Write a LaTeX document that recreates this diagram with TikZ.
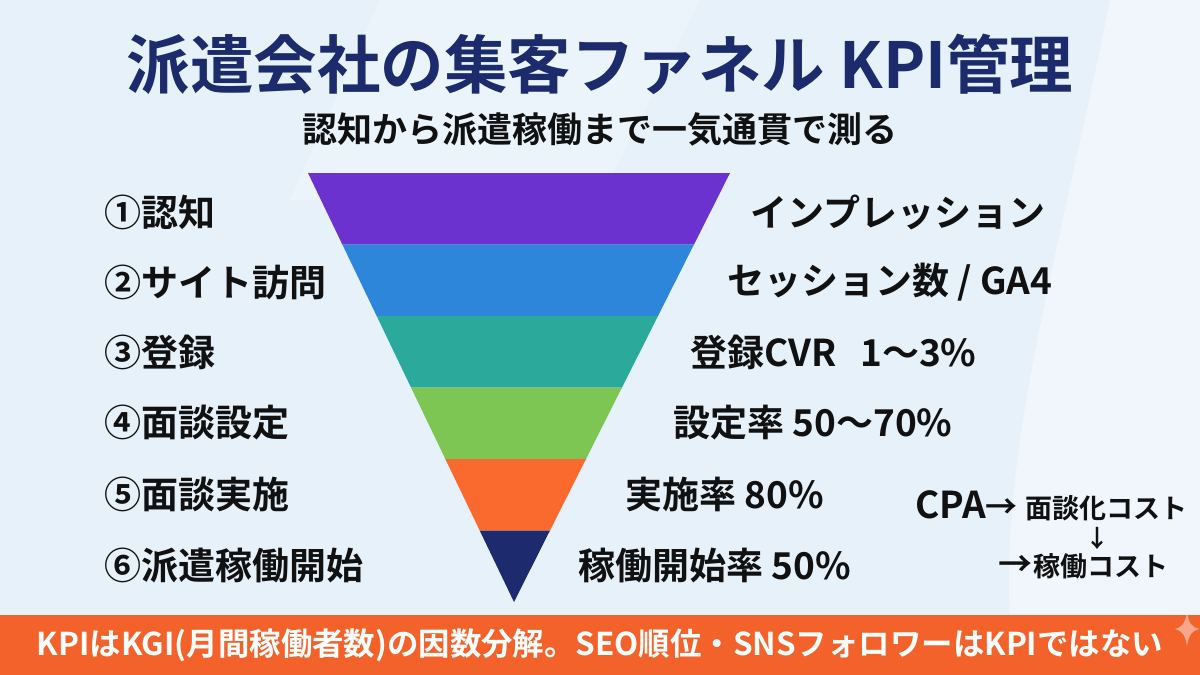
\documentclass[tikz,border=0pt]{standalone}
\usepackage{fontspec}
\setmainfont{Noto Sans CJK JP}[BoldFont={Noto Sans CJK JP Bold}]
\usetikzlibrary{calc}
\definecolor{bg}{HTML}{E7F1FA}
\definecolor{bglight}{HTML}{F0F6FC}
\definecolor{titleblue}{HTML}{1B2B6B}
\definecolor{c1}{HTML}{6C32D0}
\definecolor{c2}{HTML}{2E86DA}
\definecolor{c3}{HTML}{2BAA9C}
\definecolor{c4}{HTML}{7DC653}
\definecolor{c5}{HTML}{FA6A2E}
\definecolor{c6}{HTML}{1E2A6E}
\definecolor{barorange}{HTML}{F4622B}
\definecolor{txt}{HTML}{111111}
\tikzset{
  stagelbl/.style={anchor=west, inner sep=0pt, text=txt, font=\fontsize{37}{40}\selectfont\bfseries},
  metric/.style={anchor=west, inner sep=0pt, text=txt, font=\fontsize{37}{40}\selectfont\bfseries},
  cpa/.style={anchor=base west, inner sep=0pt, text=txt, font=\fontsize{27}{30}\selectfont\bfseries},
}
\begin{document}
\begin{tikzpicture}[x=1pt,y=-1pt]
\useasboundingbox (0,0) rectangle (1200,675);
\fill[bg] (0,0) rectangle (1200,675);
% subtle background shapes
\fill[bglight] (1110,0) .. controls (1060,250) and (1000,450) .. (1010,615) -- (1200,615) -- (1200,0) -- cycle;
\fill[bglight, opacity=0.6] (380,0) -- (290,200) -- (600,200) -- (700,0) -- cycle;

% title
\node[inner sep=0pt, text=titleblue, font=\fontsize{63.5}{70}\selectfont\bfseries] (title) at (600,64) {派遣会社の集客ファネル KPI管理};
\node[inner sep=0pt, text=txt, font=\fontsize{35}{38}\selectfont\bfseries] (subtitle) at (600,129) {認知から派遣稼働まで一気通貫で測る};

% funnel
\coordinate (tl) at (308,173);
\coordinate (tr) at (730,173);
\coordinate (tip) at (514,602);
\foreach \i/\c in {0/c1,1/c2,2/c3,3/c4,4/c5,5/c6}{
  \pgfmathsetmacro{\ta}{\i/6}
  \pgfmathsetmacro{\tb}{(\i+1)/6}
  \fill[\c] ($(tl)!\ta!(tip)$) -- ($(tr)!\ta!(tip)$) -- ($(tr)!\tb!(tip)$) -- ($(tl)!\tb!(tip)$) -- cycle;
}

% left stage labels
\node[stagelbl] (s1) at (104,212) {①認知};
\node[stagelbl] (s2) at (104,282) {②サイト訪問};
\node[stagelbl] (s3) at (104,352) {③登録};
\node[stagelbl] (s4) at (104,423) {④面談設定};
\node[stagelbl] (s5) at (104,494) {⑤面談実施};
\node[stagelbl] (s6) at (104,566) {⑥派遣稼働開始};

% right metric labels
\node[metric] (m1) at (750,212) {インプレッション};
\node[metric] (m2) at (727,282) {セッション数 / GA4};
\node[metric] (m3) at (690,352) {登録CVR\hspace{0.65em}1〜3\%};
\node[metric] (m4) at (673,423) {設定率 50〜70\%};
\node[metric] (m5) at (625,494) {実施率 80\%};
\node[metric] (m6) at (578,566) {稼働開始率 50\%};

% CPA block
\node[cpa] (cpa1) at (915,518) {{\fontsize{37}{40}\selectfont CPA}{\fontsize{32}{34}\selectfont →}\hspace{0.3em}面談化コスト};
\node[inner sep=0pt, text=txt, font=\fontsize{24}{26}\selectfont\bfseries] (cpa2) at (1097,538) {↓};
\node[cpa] (cpa3) at (998,576) {{\fontsize{34}{36}\selectfont →}\hspace{1pt}稼働コスト};

% bottom bar
\fill[barorange] (0,615) rectangle (1200,675);
\node[inner sep=0pt, text=white] (bar) at (600,645) {\resizebox{1126pt}{!}{\fontsize{31}{34}\selectfont\bfseries KPIはKGI(月間稼働者数)の因数分解。SEO順位・SNSフォロワーはKPIではない}};

% sparkle
\fill[white, opacity=0.45] (1187,612) .. controls (1189,624) and (1192,627) .. (1199,629) .. controls (1192,631) and (1189,634) .. (1187,646) .. controls (1185,634) and (1182,631) .. (1175,629) .. controls (1182,627) and (1185,624) .. (1187,612) -- cycle;
\end{tikzpicture}
\end{document}
